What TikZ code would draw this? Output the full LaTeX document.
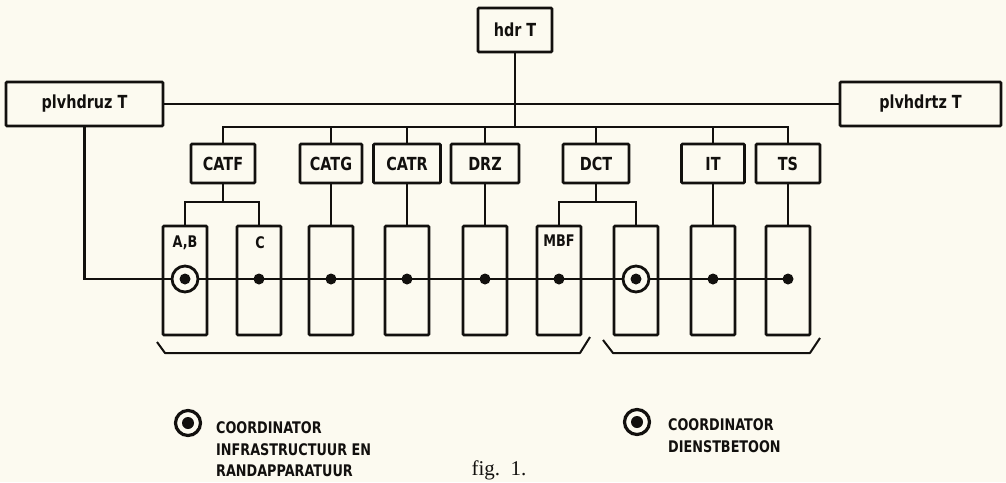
\documentclass[tikz,border=0pt]{standalone}
\usepackage{fontspec}
\setmainfont{Liberation Serif}
\newfontfamily\lettering[FakeStretch=0.8]{DejaVu Sans}
\definecolor{paper}{RGB}{252,250,240}
\definecolor{ink}{RGB}{18,16,14}
\tikzset{
  box/.style={draw=ink, line width=2.8pt, fill=paper, inner sep=0pt, rounded corners=1pt,
    text=ink, font=\lettering\bfseries\fontsize{18}{21}\selectfont},
  tallbox/.style={draw=ink, line width=2.8pt, fill=paper, inner sep=0pt, rounded corners=1pt,
    minimum width=44pt, minimum height=109pt},
  wire/.style={draw=ink, line width=2.8pt},
  dotnode/.style={circle, fill=ink, inner sep=0pt, minimum size=11pt},
  ringnode/.style={circle, draw=ink, fill=paper, line width=2.8pt, inner sep=0pt, minimum size=26pt},
  smalllab/.style={text=ink, inner sep=0pt, font=\lettering\bfseries\fontsize{16}{19}\selectfont},
  legend/.style={text=ink, inner sep=0pt, align=left, font=\lettering\bfseries\fontsize{16}{21.5}\selectfont},
  bracewire/.style={draw=ink, line width=2pt, line join=round}
}
\begin{document}
\begin{tikzpicture}[x=1pt,y=-1pt]
\fill[paper] (0,0) rectangle (1006,482);
\useasboundingbox (0,0) rectangle (1006,482);

% top level
\node[box, minimum width=74pt, minimum height=44pt] (hdr) at (515,30) {hdr T};
\node[box, minimum width=157pt, minimum height=44pt] (plvu) at (84.5,104) {plvhdruz T};
\node[box, minimum width=161pt, minimum height=44pt] (plvt) at (920.5,104) {plvhdrtz T};

% second row
\node[box, minimum width=64pt, minimum height=39pt] (catf) at (223,163.5) {CATF};
\node[box, minimum width=62pt, minimum height=39pt] (catg) at (331,163.5) {CATG};
\node[box, minimum width=67pt, minimum height=39pt] (catr) at (407,163.5) {CATR};
\node[box, minimum width=68pt, minimum height=39pt] (drz) at (485,163.5) {DRZ};
\node[box, minimum width=66pt, minimum height=39pt] (dct) at (596,163.5) {DCT};
\node[box, minimum width=63pt, minimum height=39pt] (it) at (713,163.5) {IT};
\node[box, minimum width=64pt, minimum height=39pt] (ts) at (788,163.5) {TS};

% tall boxes
\node[tallbox] (t1) at (185,280.5) {};
\node[tallbox] (t2) at (259,280.5) {};
\node[tallbox] (t3) at (331,280.5) {};
\node[tallbox] (t4) at (407,280.5) {};
\node[tallbox] (t5) at (485,280.5) {};
\node[tallbox] (t6) at (559,280.5) {};
\node[tallbox] (t7) at (636,280.5) {};
\node[tallbox] (t8) at (713,280.5) {};
\node[tallbox] (t9) at (788,280.5) {};

\node[smalllab] (lab) at (185,243) {A,B};
\node[smalllab] (lc) at (260,243) {C};
\node[smalllab] (lmbf) at (559,241) {MBF};

% bus levels
\coordinate (b2) at (0,127);
\coordinate (b3) at (0,202);
\coordinate (b4) at (0,279);

% connectors
\draw[wire] (plvu.east) -- (plvt.west);
\draw[wire] (hdr.south) -- (hdr.south |- b2);
\draw[wire] (catf.north) |- (ts.north |- b2) -- (ts.north);
\foreach \n in {catg,catr,drz,dct,it} \draw[wire] (\n.north) -- (\n.north |- b2);

\draw[wire] (catf.south) -- (catf.south |- b3);
\draw[wire] (t1.north) |- (t2.north |- b3) -- (t2.north);
\draw[wire] (dct.south) -- (dct.south |- b3);
\draw[wire] (t6.north) |- (t7.north |- b3) -- (t7.north);
\draw[wire] (catg.south) -- (t3.north);
\draw[wire] (catr.south) -- (t4.north);
\draw[wire] (drz.south) -- (t5.north);
\draw[wire] (it.south) -- (t8.north);
\draw[wire] (ts.south) -- (t9.north);

% lower bus
\coordinate (bend) at (t9.center |- b4);
\draw[wire] (plvu.south) |- (bend);

\node[ringnode] (r1) at (t1.center |- b4) {};
\node[ringnode] (r7) at (t7.center |- b4) {};
\node[dotnode] (d1) at (r1.center) {};
\node[dotnode] (d7) at (r7.center) {};
\node[dotnode] (d2) at (t2.center |- b4) {};
\node[dotnode] (d3) at (t3.center |- b4) {};
\node[dotnode] (d4) at (t4.center |- b4) {};
\node[dotnode] (d5) at (t5.center |- b4) {};
\node[dotnode] (d6) at (t6.center |- b4) {};
\node[dotnode] (d8) at (t8.center |- b4) {};
\node[dotnode] (d9) at (t9.center |- b4) {};

% braces
\draw[bracewire] (157,342) -- (165,353) -- (580,353) -- (590,337);
\draw[bracewire] (603,340) -- (613,353) -- (810,353) -- (820,338);

% legend
\node[ringnode, line width=3.2pt, minimum size=25pt] (lg1) at (188,423) {};
\node[dotnode, minimum size=12pt] (lg1d) at (lg1.center) {};
\node[legend, anchor=north west] (lt1) at (216,421.5) {COORDINATOR\\INFRASTRUCTUUR EN\\RANDAPPARATUUR};

\node[ringnode, line width=3.2pt, minimum size=25pt] (lg2) at (637,422) {};
\node[dotnode, minimum size=12pt] (lg2d) at (lg2.center) {};
\node[legend, anchor=north west] (lt2) at (668,418.5) {COORDINATOR\\DIENSTBETOON};

\node[text=ink, inner sep=0pt, font=\fontsize{21}{24}\selectfont] (fig) at (499,470) {fig.\ \ 1.};
\end{tikzpicture}
\end{document}
